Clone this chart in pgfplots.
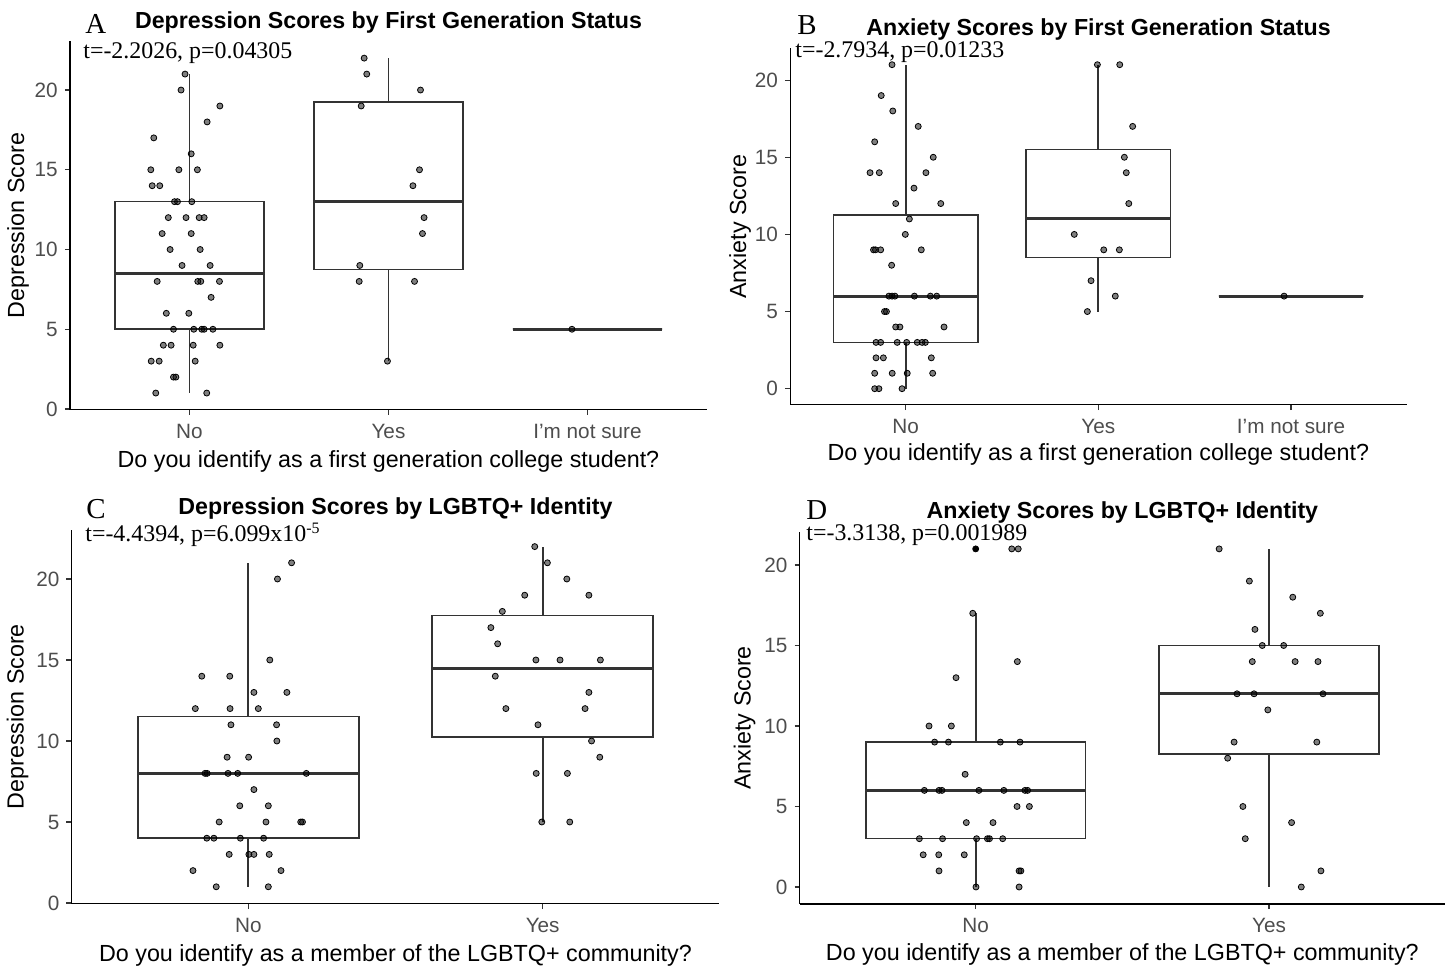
\documentclass[border=0pt]{standalone}
\usepackage{fontspec}
\setmainfont{Liberation Sans}
\newfontfamily\serifface{Liberation Serif}
\usepackage{pgfplots}
\pgfplotsset{compat=1.18}
\usepgfplotslibrary{statistics}
\definecolor{tickgray}{HTML}{4D4D4D}
\definecolor{boxgray}{HTML}{333333}

\newcommand{\labelfont}{\fontsize{11.7}{13.5}\selectfont}
\pgfplotsset{
  ylab/.style={every axis y label/.style={at={(axis description cs:0,0.5)},
    xshift=#1, rotate=90, anchor=center, font=\labelfont}},
  xlab/.style={every axis x label/.style={at={(axis description cs:0.5,0)},
    yshift=#1, anchor=center, font=\labelfont}},
  panel/.style={
    scale only axis,
    axis x line*=bottom, axis y line*=left,
    axis line style={black, line width=0.6bp},
    tick align=outside,
    major tick length=2.6bp,
    every tick/.style={boxgray, line width=0.6bp},
    xtick={1,2,3}, ytick={0,5,10,15,20},
    tick label style={font=\fontsize{10.4}{12}\selectfont, text=tickgray},
    /pgf/number format/assume math mode=true,
    xlab=-26bp, ylab=-26bp,
    xticklabel style={anchor=base, yshift=-11.8bp},
    yticklabel style={anchor=east},
  },
  jit/.style={only marks, mark=*, mark size=1.5bp,
    mark options={draw=none, fill=black, fill opacity=0.5}},
  bx/.style={draw=boxgray, line width=0.8bp, fill=white, mark=none, solid,
    boxplot/draw direction=y,
    boxplot/every box/.style={line width=0.8bp},
    boxplot/every whisker/.style={line width=0.9bp},
    boxplot/every median/.style={line width=1.5bp}},
}
\newcommand{\tag}[1]{\serifface\fontsize{14.5}{16}\selectfont #1}

\begin{document}
\begin{tikzpicture}
\useasboundingbox (0,0) rectangle (726.5bp,483.5bp);

% ---------------- A: depression by first-generation status
\begin{axis}[panel, at={(35bp,278.6bp)}, anchor=south west,
  width=318.45bp, height=184.2bp,
  xmin=0.4, xmax=3.6, ymin=-0.05, ymax=23.05,
  xticklabels={No,Yes,I'm not sure},
  xlabel={Do you identify as a first generation college student?},
  ylabel={Depression Score}]
\addplot[bx, boxplot prepared={draw position=1, lower whisker=1, lower quartile=5,
  median=8.5, upper quartile=13, upper whisker=21, box extend=0.75, whisker extend=0}]
  coordinates {};
\addplot[bx, boxplot prepared={draw position=2, lower whisker=3, lower quartile=8.75,
  median=13, upper quartile=19.25, upper whisker=22, box extend=0.75, whisker extend=0}]
  coordinates {};
\addplot[bx, boxplot prepared={draw position=3, lower whisker=5, lower quartile=5,
  median=5, upper quartile=5, upper whisker=5, box extend=0.75, whisker extend=0}]
  coordinates {};
\addplot[jit] coordinates {
  (0.978,21) (0.958,20) (1.153,19) (1.089,18) (0.821,17) (1.009,16)
  (0.806,15) (0.947,15) (1.040,15) (0.813,14) (0.851,14)
  (0.925,13) (0.940,13) (1.012,13) (0.894,12) (0.983,12) (1.049,12) (1.074,12)
  (0.863,11) (1.009,11) (0.903,10) (1.054,10) (0.963,9) (1.104,9)
  (0.838,8) (1.042,8) (1.057,8) (1.151,8) (1.109,7) (0.884,6) (0.997,6)
  (0.920,5) (1.022,5) (1.062,5) (1.074,5) (1.118,5)
  (0.869,4) (0.908,4) (1.019,4) (1.153,4) (0.808,3) (0.848,3) (1.029,3)
  (0.920,2) (0.932,2) (0.831,1) (1.087,1)};
\addplot[jit] coordinates {
  (1.878,22) (1.891,21) (2.161,20) (1.863,19) (2.156,15) (2.123,14)
  (2.179,12) (2.171,11) (1.856,9) (1.853,8) (2.131,8) (1.995,3)};
\addplot[jit] coordinates {(2.922,5)};
\end{axis}

% ---------------- B: anxiety by first-generation status
\begin{axis}[panel, at={(395.05bp,281.05bp)}, anchor=south west,
  width=308.25bp, height=178.2bp,
  xmin=0.4, xmax=3.6, ymin=-1.05, ymax=22.05,
  xticklabels={No,Yes,I'm not sure},
  xlab=-25bp, ylab=-25bp,
  xlabel={Do you identify as a first generation college student?},
  ylabel={Anxiety Score}]
\addplot[bx, boxplot prepared={draw position=1, lower whisker=0, lower quartile=3,
  median=6, upper quartile=11.25, upper whisker=21, box extend=0.75, whisker extend=0}]
  coordinates {};
\addplot[bx, boxplot prepared={draw position=2, lower whisker=5, lower quartile=8.5,
  median=11, upper quartile=15.5, upper whisker=21, box extend=0.75, whisker extend=0}]
  coordinates {};
\addplot[bx, boxplot prepared={draw position=3, lower whisker=6, lower quartile=6,
  median=6, upper quartile=6, upper whisker=6, box extend=0.75, whisker extend=0}]
  coordinates {};
\addplot[jit] coordinates {
  (0.929,21) (0.873,19) (0.933,18) (1.065,17) (0.839,16) (1.143,15)
  (0.815,14) (0.863,14) (1.105,14) (1.043,13) (0.948,12) (1.182,12)
  (1.019,11) (0.998,10) (0.833,9) (0.843,9) (0.870,9) (1.081,9) (0.927,8)
  (0.913,6) (0.929,6) (0.944,6) (1.045,6) (1.128,6) (1.161,6)
  (0.890,5) (0.900,5) (0.948,4) (0.970,4) (1.199,4)
  (0.846,3) (0.870,3) (0.956,3) (1.005,3) (1.060,3) (1.085,3) (1.102,3)
  (0.846,2) (0.884,2) (1.133,2) (0.839,1) (0.930,1) (1.008,1) (1.140,1)
  (0.839,0) (0.861,0) (0.981,0)};
\addplot[jit] coordinates {
  (1.995,21) (2.111,21) (2.178,17) (2.135,15) (2.145,14) (2.158,12)
  (1.875,10) (2.028,9) (2.109,9) (1.962,7) (2.088,6) (1.943,5)};
\addplot[jit] coordinates {(2.964,6)};
\end{axis}

% ---------------- C: depression by LGBTQ+ identity
\begin{axis}[panel, at={(35.85bp,31.6bp)}, anchor=south west,
  width=323.8bp, height=187.1bp,
  xmin=0.4, xmax=2.6, ymin=-0.05, ymax=23.05,
  xticklabels={No,Yes},
  xlab=-26bp, ylab=-27bp,
  xlabel={Do you identify as a member of the LGBTQ+ community?},
  ylabel={Depression Score}]
\addplot[bx, boxplot prepared={draw position=1, lower whisker=1, lower quartile=4,
  median=8, upper quartile=11.5, upper whisker=21, box extend=0.75, whisker extend=0}]
  coordinates {};
\addplot[bx, boxplot prepared={draw position=2, lower whisker=5, lower quartile=10.25,
  median=14.5, upper quartile=17.75, upper whisker=22, box extend=0.75, whisker extend=0}]
  coordinates {};
\addplot[jit] coordinates {
  (1.147,21) (1.099,20) (1.073,15) (0.842,14) (0.937,14) (1.019,13) (1.131,13)
  (0.820,12) (0.938,12) (1.034,12) (0.941,11) (1.096,11) (1.097,10)
  (0.928,9) (1.001,9) (0.853,8) (0.860,8) (0.931,8) (0.964,8) (1.197,8)
  (1.019,7) (0.971,6) (1.068,6) (0.901,5) (1.060,5) (1.178,5) (1.184,5)
  (0.859,4) (0.883,4) (0.973,4) (1.052,4) (0.935,3) (1.002,3) (1.019,3) (1.071,3)
  (0.812,2) (1.111,2) (0.891,1) (1.068,1)};
\addplot[jit] coordinates {
  (1.973,22) (2.016,21) (2.082,20) (1.939,19) (2.157,19) (1.863,18) (1.824,17)
  (1.847,16) (1.977,15) (2.059,15) (2.196,15) (1.839,14) (2.157,13)
  (1.875,12) (2.144,12) (1.984,11) (2.166,10) (2.194,9) (1.978,8) (2.084,8)
  (1.997,5) (2.092,5)};
\end{axis}

% ---------------- D: anxiety by LGBTQ+ identity
\begin{axis}[panel, at={(399.85bp,31.55bp)}, anchor=south west,
  width=322.65bp, height=185.95bp,
  xmin=0.4, xmax=2.6, ymin=-1.05, ymax=22.05,
  xticklabels={No,Yes},
  xlab=-25.5bp, ylab=-27.5bp,
  xlabel={Do you identify as a member of the LGBTQ+ community?},
  ylabel={Anxiety Score}]
\addplot[bx, boxplot prepared={draw position=1, lower whisker=0, lower quartile=3,
  median=6, upper quartile=9, upper whisker=17, box extend=0.75, whisker extend=0}]
  coordinates {};
\addplot[bx, boxplot prepared={draw position=2, lower whisker=0, lower quartile=8.25,
  median=12, upper quartile=15, upper whisker=21, box extend=0.75, whisker extend=0}]
  coordinates {};
% outlier of the "No" group
\addplot[only marks, mark=*, mark size=1.5bp, mark options={draw=none, fill=black}]
  coordinates {(1,21)};
\addplot[jit] coordinates {
  (1.123,21) (1.145,21) (0.990,17) (1.142,14) (0.933,13) (0.841,10) (0.917,10)
  (0.860,9) (0.907,9) (1.084,9) (1.151,9) (0.964,7)
  (0.825,6) (0.875,6) (0.885,6) (1.011,6) (1.096,6) (1.168,6) (1.177,6)
  (1.141,5) (1.183,5) (0.968,4) (1.059,4)
  (0.808,3) (0.887,3) (1.003,3) (1.040,3) (1.047,3) (1.092,3)
  (0.821,2) (0.874,2) (0.961,2) (0.875,1) (1.148,1) (1.154,1) (1.001,0) (1.148,0)};
\addplot[jit] coordinates {
  (1.830,21) (1.933,19) (2.081,18) (2.175,17) (1.952,16) (1.977,15) (2.050,15)
  (1.943,14) (2.089,14) (2.167,14) (1.891,12) (1.949,12) (2.184,12) (1.996,11)
  (1.881,9) (2.163,9) (1.859,8) (1.911,5) (2.077,4) (1.919,3) (2.177,1) (2.110,0)};
\end{axis}

% ---------------- titles, panel tags and test results
\begin{scope}[every node/.style={inner sep=0}]
\node[anchor=base, font=\bfseries\fontsize{11.65}{13}\selectfont] at (194.25bp,469.15bp)
  {Depression Scores by First Generation Status};
\node[anchor=base, font=\bfseries\fontsize{11.65}{13}\selectfont] at (549.25bp,465.5bp)
  {Anxiety Scores by First Generation Status};
\node[anchor=base, font=\bfseries\fontsize{11.65}{13}\selectfont] at (197.75bp,226bp)
  {Depression Scores by LGBTQ+ Identity};
\node[anchor=base, font=\bfseries\fontsize{11.65}{13}\selectfont] at (561.2bp,224bp)
  {Anxiety Scores by LGBTQ+ Identity};
\node[anchor=base west] at (42.5bp,466.85bp) {\tag{A}};
\node[anchor=base west] at (398.5bp,466bp) {\tag{B}};
\node[anchor=base west] at (43bp,224bp) {\tag{C}};
\node[anchor=base west] at (403bp,223.5bp) {\tag{D}};
\node[anchor=base west, font=\serifface\fontsize{12}{14}\selectfont] at (41.5bp,454bp)
  {t=-2.2026, p=0.04305};
\node[anchor=base west, font=\serifface\fontsize{12}{14}\selectfont] at (397.5bp,454.5bp)
  {t=-2.7934, p=0.01233};
\node[anchor=base west, font=\serifface\fontsize{12}{14}\selectfont] at (42.5bp,212.65bp)
  {t=-4.4394, p=6.099x10\textsuperscript{-5}};
\node[anchor=base west, font=\serifface\fontsize{12}{14}\selectfont] at (403bp,213bp)
  {t=-3.3138, p=0.001989};
\end{scope}
\end{tikzpicture}
\end{document}
